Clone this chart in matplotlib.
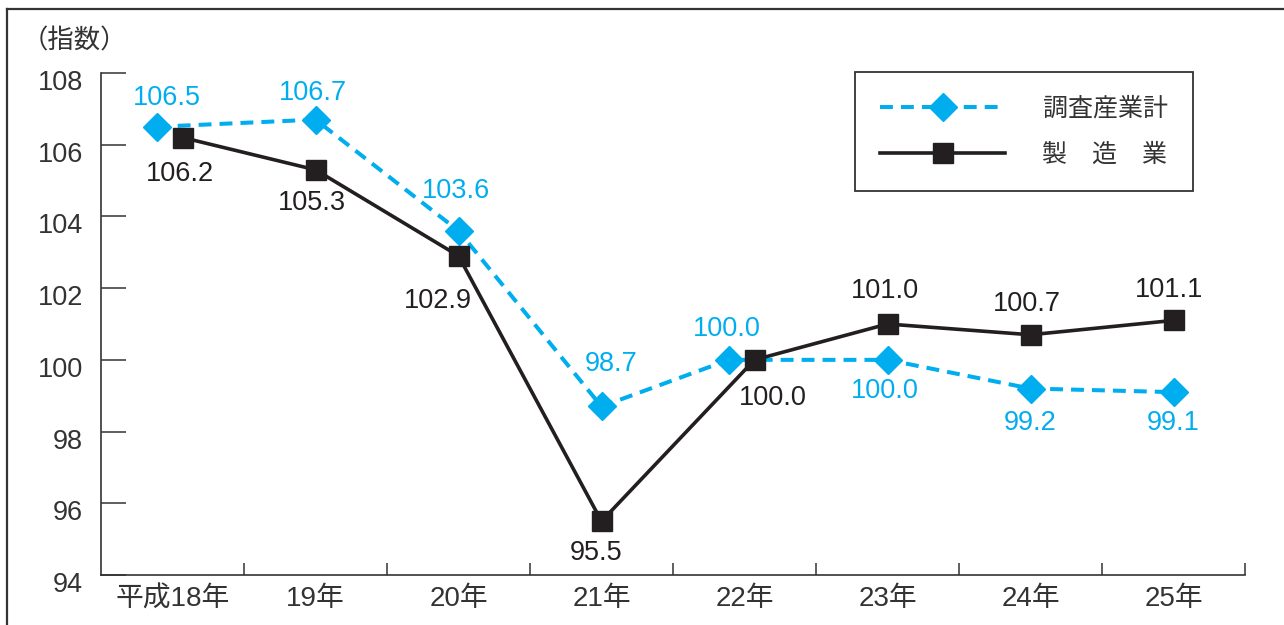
import matplotlib.pyplot as plt
from matplotlib.lines import Line2D
from matplotlib.transforms import ScaledTranslation

plt.rcParams['font.family'] = ['Liberation Sans', 'Noto Sans CJK JP']

# データ
years = ['平成18年', '19年', '20年', '21年', '22年', '23年', '24年', '25年']
total = [106.5, 106.7, 103.6, 98.7, 100.0, 100.0, 99.2, 99.1]        # 調査産業計
manuf = [106.2, 105.3, 102.9, 95.5, 100.0, 101.0, 100.7, 101.1]      # 製造業
y_ticks = [94, 96, 98, 100, 102, 104, 106, 108]

# 重なる点だけ左右にずらす（区間の幅に対する割合）
total_shift = [-0.11, 0, 0, 0, -0.11, 0, 0, 0]
manuf_shift = [0.07, 0, 0, 0, 0.07, 0, 0, 0]

# ラベルの位置（マーカーからのずれ, px）
total_off = [(10, 29), (-3, 27), (-3, 40), (10, 42), (-2, 31), (-3, -31), (0, -34), (0, -31)]
manuf_off = [(-3, -36), (-4, -33), (-21, -45), (-5, -32), (18, -38), (-3, 33), (-4, 31), (-4, 30)]

cyan = '#00AEEF'
black = '#231F20'
gray = '#333333'

fig = plt.figure(figsize=(12.84, 6.25), dpi=100)
ax = fig.add_axes([101 / 1284, 50 / 625, 1144 / 1284, 502 / 625])

x_total = [i + s for i, s in enumerate(total_shift)]
x_manuf = [i + s for i, s in enumerate(manuf_shift)]

ax.plot(x_total, total, color=cyan, lw=2.9, dashes=(3.2, 2), marker='D', ms=14,
        mec=cyan, mfc=cyan, label='調査産業計', zorder=3)
ax.plot(x_manuf, manuf, color=black, lw=2.6, marker='s', ms=15,
        mec=black, mfc=black, label='製\u3000造\u3000業', zorder=4)

for x, y, (dx, dy) in zip(x_total, total, total_off):
    ax.annotate(f'{y:.1f}', (x, y), xytext=(dx, dy), textcoords='offset pixels',
                ha='center', va='center', fontsize=19.5, color=cyan)
for x, y, (dx, dy) in zip(x_manuf, manuf, manuf_off):
    ax.annotate(f'{y:.1f}', (x, y), xytext=(dx, dy), textcoords='offset pixels',
                ha='center', va='center', fontsize=19.5, color=black)

ax.set_xlim(-0.5, len(years) - 0.5)
ax.set_ylim(94, 108)
ax.spines['top'].set_visible(False)
ax.spines['right'].set_visible(False)
for s in ['left', 'bottom']:
    ax.spines[s].set_color(gray)
    ax.spines[s].set_linewidth(1.2)

ax.set_yticks(y_ticks)
ax.set_yticklabels([str(v) for v in y_ticks])
ax.tick_params(axis='y', direction='in', length=18, width=1.1, color=gray,
               labelsize=19.5, labelcolor=gray, pad=13)
offset = ScaledTranslation(0, -0.07, fig.dpi_scale_trans)
for lab in ax.get_yticklabels():
    lab.set_transform(lab.get_transform() + offset)

ax.set_xticks(range(len(years)))
ax.set_xticklabels(years)
ax.tick_params(axis='x', which='major', length=0, labelsize=20,
               labelcolor=gray, pad=8)
ax.set_xticks([i + 0.5 for i in range(len(years))], minor=True)
ax.tick_params(axis='x', which='minor', direction='in', length=9, width=1.1, color=gray)

fig.text(22 / 1284, 1 - 41 / 625, '（指数）', fontsize=19, color=gray,
         ha='left', va='center', family=['Noto Sans CJK JP'])

leg = ax.legend(loc='upper left', bbox_to_anchor=(855 / 1284, 1 - 72 / 625),
                bbox_transform=fig.transFigure, borderaxespad=0,
                fontsize=18, handlelength=5.0, handletextpad=1.5,
                labelspacing=0.85, borderpad=1.0, fancybox=False,
                edgecolor=gray, framealpha=1)
leg.get_frame().set_linewidth(1.3)
for t in leg.get_texts():
    t.set_color(gray)

# 外枠
fig.add_artist(Line2D([7 / 1284, 7 / 1284], [0, 1 - 9 / 625], color=gray, lw=1.6,
                      transform=fig.transFigure))
fig.add_artist(Line2D([7 / 1284, 1], [1 - 9 / 625, 1 - 9 / 625], color=gray, lw=1.6,
                      transform=fig.transFigure))

fig.savefig('out.png', dpi=100)
